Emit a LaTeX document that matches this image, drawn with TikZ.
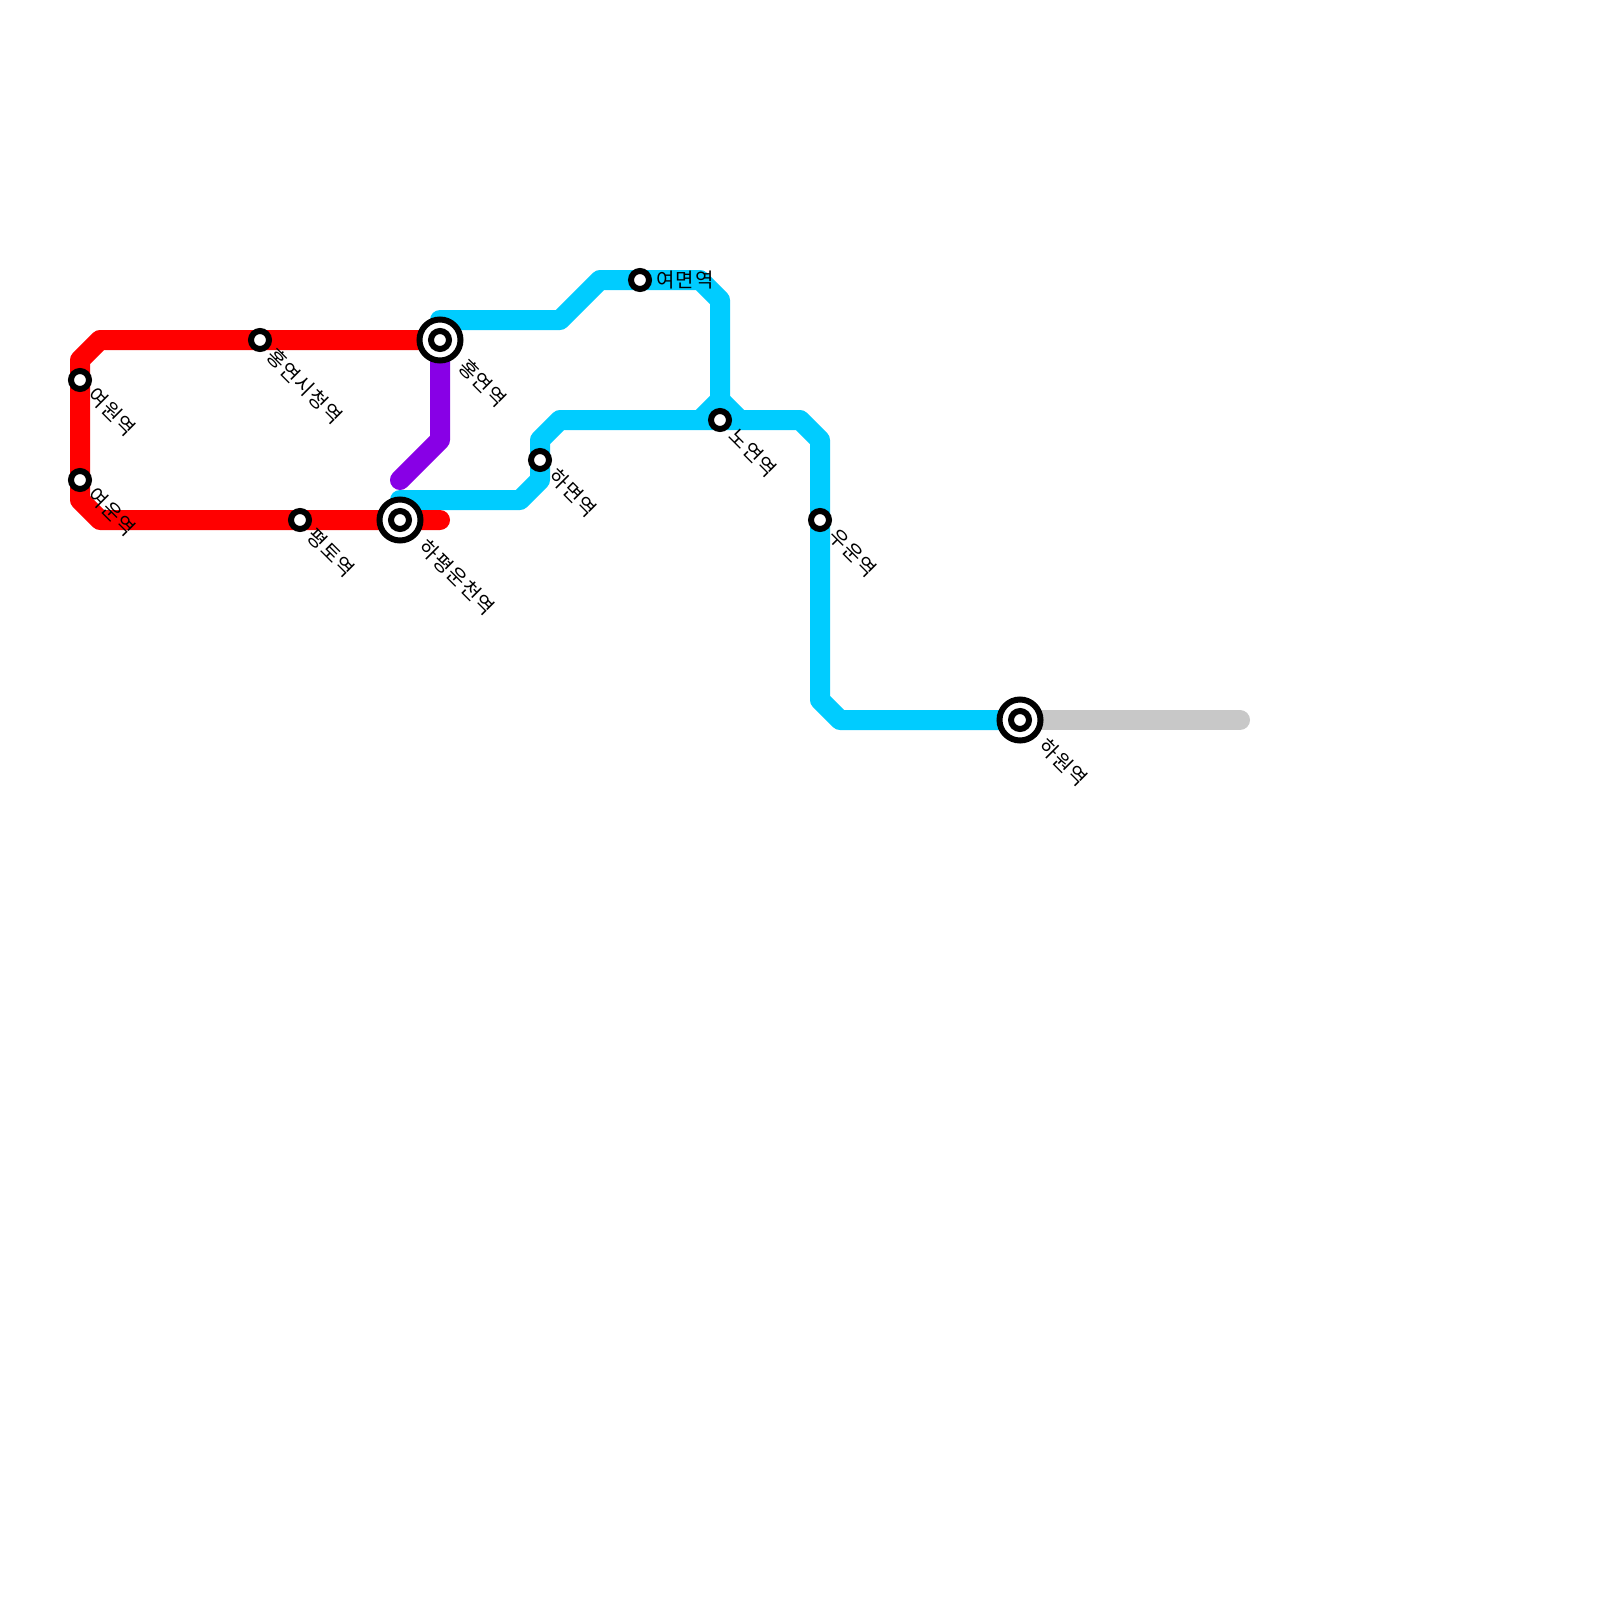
\documentclass[tikz,border=0pt]{standalone}
\usepackage{fontspec}
\setmainfont{Noto Sans CJK KR}[LetterSpace=5]
\tikzset{
  metro/.style={line width=20pt,line join=round,line cap=round},
  stn/.style={circle,draw=black,fill=white,line width=6pt,minimum size=18pt,inner sep=0pt,outer sep=0pt},
  hub/.style={circle,draw=black,fill=white,line width=6pt,minimum size=41pt,inner sep=0pt,outer sep=0pt},
  lab/.style={font=\fontsize{20pt}{22pt}\selectfont,anchor=west,inner sep=0pt,text=black},
  diag/.style={lab,rotate=-45},
}
\definecolor{redl}{HTML}{FF0000}
\definecolor{bluel}{HTML}{00CCFF}
\definecolor{purpl}{HTML}{8800E6}
\definecolor{grayl}{HTML}{C8C8C8}
\begin{document}
\begin{tikzpicture}[x=1pt,y=-1pt]
\useasboundingbox (0,0) rectangle (1600,1600);
\fill[white] (0,0) rectangle (1600,1600);
% coordinates
\coordinate (a) at (80,380);
\coordinate (b) at (80,480);
\coordinate (c) at (260,340);
\coordinate (d) at (300,520);
\coordinate (e) at (440,340);
\coordinate (f) at (400,520);
\coordinate (g) at (540,460);
\coordinate (h) at (640,280);
\coordinate (i) at (720,420);
\coordinate (j) at (820,520);
\coordinate (k) at (1020,720);
\coordinate (redend) at (440,520);
\coordinate (grayend) at (1240,720);
% lines
\draw[metro,grayl] (k) -- (grayend);
\draw[metro,bluel] (440,320) -- (560,320) -- (600,280) -- (700,280) -- (720,300) -- (i);
\draw[metro,bluel,line cap=butt] (700,420) -- (720,400) -- (740,420);
\draw[metro,bluel] (400,500) -- (520,500) -- (540,480) -- (540,440) -- (560,420) -- (800,420) -- (820,440) -- (820,700) -- (840,720) -- (k);
\draw[metro,purpl] (e) -- (440,440) -- (400,480);
\draw[metro,redl] (e) -- (100,340) -- (80,360) -- (80,500) -- (100,520) -- (redend);
% stations
\foreach \n/\p in {sa/a,sb/b,sc/c,sd/d,sg/g,sh/h,si/i,sj/j}{\node[stn] (\n) at (\p) {};}
\foreach \n/\p in {se/e,sf/f,sk/k}{\node[hub] (\n) at (\p) {}; \node[stn] (\n i) at (\p) {};}
% labels
\node[diag] (la) at (91.5,391.5) {여원역};
\node[diag] (lb) at (91.5,491.5) {여운역};
\node[diag] (lc) at (270.5,352) {홍연시청역};
\node[diag] (ld) at (310.5,532.5) {평토역};
\node[diag] (le) at (462.5,362.5) {홍연역};
\node[diag] (lf) at (423,543) {하평운천역};
\node[diag] (lg) at (552.5,472.5) {하면역};
\node[lab] (lh) at (656,280) {여면역};
\node[diag] (li) at (732.5,432.5) {노연역};
\node[diag] (lj) at (832.5,532.5) {우운역};
\node[diag] (lk) at (1043,742) {하원역};
\end{tikzpicture}
\end{document}
